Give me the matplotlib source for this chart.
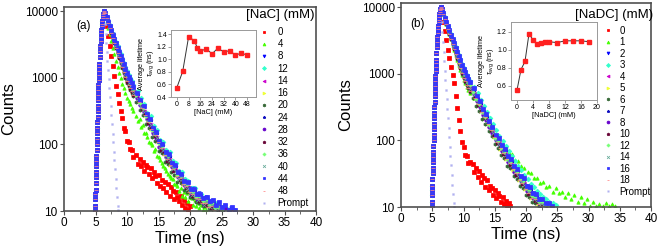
import numpy as np
import matplotlib
matplotlib.use("Agg")
import matplotlib.pyplot as plt
from matplotlib.ticker import FixedLocator, NullLocator

plt.rcParams['font.family'] = ['Liberation Sans', 'DejaVu Sans']
plt.rcParams['mathtext.fontset'] = 'custom'
plt.rcParams['mathtext.rm'] = 'Liberation Sans'
plt.rcParams['mathtext.it'] = 'Liberation Sans:italic'

# ---------------- channel grids (ns) ----------------
t_rise = np.round(np.r_[np.arange(4.9, 5.6001, 0.025), np.arange(5.65, 6.4001, 0.05)], 3)
rise_counts = [10, 12, 15, 17.8, 21, 26, 32, 38, 47, 56, 68, 83, 100, 120, 148, 178, 214, 260,
               316, 380, 457, 550, 661, 790, 933, 1090, 1259, 1440, 1622,
               2042, 2512, 3020, 3548, 4074, 4677, 5248, 5888, 6457, 7079, 7762, 8318,
               8913, 9441, 9772, 10000]
t_fast = np.round(np.arange(6.5, 11.0001, 0.25), 3)
t_slow_start = 11.5

# ---------------- panel (a): NaC ----------------
nac_labels = ['0', '4', '8', '12', '14', '16', '20', '24', '28', '32', '36', '40', '44', '48']
# tail channel spacing and first-channel offset (ns) of each series
nac_step = [0.25, 0.25, 0.5, 0.5, 0.5, 0.5, 0.5, 0.5, 0.5, 0.5, 0.5, 0.5, 0.5, 0.5]
nac_shift = [0, 0, 0, 0.25, 0.125, 0.375, 0, 0.25, 0.125, 0.375, 0, 0.25, 0.125, 0.375]
nac_fast = [
    [8710, 6030, 4270, 2950, 2090, 1480, 1050, 760, 562, 417, 316, 250, 178, 156, 112, 108, 84, 82, 64],
    [8910, 7080, 5620, 4470, 3550, 2820, 2240, 1780, 1450, 1175, 977, 813, 692, 589, 501, 447, 398, 355, 316],
    [9390, 8090, 6980, 6020, 5200, 4480, 3870, 3330, 2870, 2480, 2170, 1880, 1620, 1390, 1200, 1070, 950, 850, 755],
    [9400, 8130, 7040, 6090, 5270, 4560, 3940, 3410, 2950, 2550, 2240, 1940, 1680, 1440, 1250, 1110, 990, 890, 790],
    [9330, 7940, 6760, 5750, 4900, 4170, 3550, 3020, 2570, 2190, 1900, 1620, 1380, 1170, 1000, 890, 790, 710, 630],
    [9300, 7860, 6650, 5610, 4750, 4010, 3390, 2860, 2420, 2050, 1760, 1490, 1260, 1060, 900, 801, 711, 639, 567],
    [9290, 7810, 6570, 5520, 4650, 3910, 3290, 2770, 2320, 1960, 1680, 1410, 1190, 993, 840, 748, 664, 596, 529],
    [9360, 8030, 6900, 5910, 5080, 4360, 3740, 3210, 2750, 2360, 2070, 1770, 1520, 1300, 1120, 1000, 885, 795, 705],
    [9320, 7920, 6730, 5710, 4850, 4120, 3500, 2970, 2520, 2150, 1860, 1580, 1340, 1140, 970, 865, 765, 690, 610],
    [9290, 7840, 6610, 5570, 4700, 3970, 3340, 2820, 2370, 2000, 1720, 1450, 1225, 1030, 870, 775, 687, 618, 548],
    [9350, 8000, 6850, 5860, 5020, 4300, 3680, 3140, 2690, 2300, 2010, 1720, 1475, 1260, 1080, 960, 855, 765, 680],
    [9310, 7900, 6690, 5670, 4810, 4080, 3450, 2930, 2480, 2100, 1820, 1540, 1310, 1105, 940, 837, 743, 667, 592],
    [9380, 8070, 6960, 5990, 5150, 4440, 3820, 3290, 2830, 2430, 2130, 1840, 1580, 1350, 1170, 1040, 925, 830, 737],
    [9290, 7850, 6620, 5590, 4720, 3980, 3360, 2830, 2380, 2010, 1730, 1460, 1230, 1035, 880, 783, 695, 625, 554],
]
nac_slow = [
    [70, 51, 61, 47, 55, 40, 49, 45, 36, 44, 31, 39, 33, 26, 35, 24, 29, 22, 27, 19, 25, 17, 23, 20, 15,
     19, 16, 14, 17, 12.5, 14.5, 11, 13, 10.5, 12],
    [268, 226, 236, 184, 194, 150, 146, 128, 110, 104, 97, 80, 84, 66, 64, 58, 52, 47, 44, 40, 36, 33, 31, 30,
     25, 25, 24, 20, 22, 17, 19.5, 16, 18.5, 14, 16.5, 15.5, 12.5, 14.5, 11.8, 13, 11.2, 12.2, 10.5, 11.5, 10.2],
    [615, 470, 392, 290, 250, 182, 158, 114, 104, 79, 73, 55, 50, 39, 37, 29, 27, 22, 22, 18, 18.5, 15.5, 16, 13.5, 14, 12, 13, 11, 12, 10.5, 11, 10.2],
    [640, 490, 410, 300, 262, 190, 165, 118, 110, 82, 76, 57, 52, 40, 38, 30, 28, 22, 22, 18, 18, 15, 15.5, 13.5, 13.5, 12, 12, 11, 11, 10.4],
    [505, 395, 320, 245, 205, 152, 130, 96, 86, 66, 60, 46, 42, 32, 31, 24, 23, 18, 19, 15, 16, 13.5, 14, 12, 12.5, 11, 11.5, 10.5],
    [440, 368, 276, 232, 172, 148, 107, 95, 71, 66, 49, 46, 34, 33, 25, 25, 19, 19, 15.5, 15.5, 13.5, 13.5, 11.8, 12, 10.6, 10.8],
    [428, 328, 274, 203, 174, 127, 111, 80, 73, 55, 51, 38, 35, 27, 26, 21, 19, 16, 15.5, 13.5, 13.4, 11.8, 11.8, 10.7, 10.8],
    [570, 440, 365, 272, 232, 170, 148, 106, 97, 73, 68, 51, 47, 36, 35, 27, 26, 20.5, 21, 17, 17.5, 14.5, 15, 13, 13.5, 11.5, 12, 10.5, 11, 10.5],
    [490, 384, 310, 236, 196, 146, 124, 92, 83, 64, 58, 45, 41, 32, 31, 25, 23, 18, 19, 15, 16, 13, 14, 12, 12.5, 11, 11.5, 10.5, 11, 10.2, 10.8],
    [445, 340, 284, 210, 180, 132, 115, 83, 75, 57, 52, 40, 36, 29, 27, 22, 20, 17, 16.5, 14.3, 14.2, 12.5, 12.4, 11.2, 11.2, 10.4],
    [548, 424, 352, 262, 224, 164, 143, 103, 94, 71, 66, 50, 45, 35, 33, 26, 25, 20, 19.5, 16.5, 17, 14, 14.5, 12.5, 13, 11, 11.5, 10.5],
    [478, 366, 306, 226, 196, 142, 124, 89, 82, 61, 58, 42, 40, 30, 30, 23, 22, 17.5, 18, 14.5, 15.5, 12.5, 13.5, 11.5, 12, 10.5, 11],
    [595, 458, 382, 284, 244, 178, 154, 111, 101, 77, 71, 53, 49, 38, 36, 28, 27, 21.5, 21.5, 18, 18, 15.5, 16, 14, 14.5, 12.5, 13.5, 11.5, 12.5, 10.5, 11.5, 10.3],
    [432, 356, 272, 220, 170, 140, 108, 89, 70, 61, 49, 43, 34, 31, 25, 23.5, 19, 18, 15.5, 15, 13.3, 13.2, 11.6, 11.8, 10.5],
]
nac_prompt_t = np.round(np.arange(6.5, 8.6001, 0.1), 2)
nac_prompt = [6300, 4570, 3310, 2450, 1780, 1320, 955, 692, 513, 372, 275, 200, 145, 107, 78, 58, 42, 30, 22, 16, 12, 10.2]

nac_conc = [0, 4, 8, 12, 14, 16, 20, 24, 28, 32, 36, 40, 44, 48]
nac_tau = [0.55, 0.81, 1.36, 1.30, 1.18, 1.13, 1.17, 1.09, 1.18, 1.12, 1.14, 1.07, 1.10, 1.07]

# ---------------- panel (b): NaDC ----------------
nadc_labels = ['0', '1', '2', '3', '4', '5', '6', '7', '8', '10', '12', '14', '16', '18']
nadc_step = [0.25, 0.5, 0.5, 0.5, 0.5, 0.5, 0.5, 0.5, 0.5, 0.5, 0.5, 0.5, 0.5, 0.5]
nadc_shift = [0, 0.25, 0, 0.25, 0.125, 0.375, 0, 0.25, 0.125, 0.375, 0, 0.25, 0.125, 0.375]
nadc_fast = [
    [8510, 6030, 4370, 3160, 2290, 1700, 1260, 955, 724, 468, 302, 200, 140, 94, 80, 60, 58, 46, 47],
    [9280, 7820, 6570, 5500, 4620, 3880, 3260, 2730, 2290, 1920, 1620, 1370, 1150, 960, 800, 715, 640, 575, 515],
    [9370, 8060, 6930, 5950, 5130, 4400, 3790, 3250, 2800, 2400, 2110, 1810, 1560, 1330, 1150, 1020, 910, 815, 725],
    [9390, 8110, 7000, 6050, 5230, 4510, 3890, 3360, 2900, 2500, 2200, 1900, 1640, 1410, 1220, 1090, 965, 870, 775],
    [9330, 7940, 6760, 5750, 4900, 4170, 3550, 3020, 2570, 2190, 1900, 1620, 1380, 1170, 1000, 890, 790, 710, 630],
    [9300, 7860, 6650, 5610, 4750, 4010, 3390, 2860, 2420, 2050, 1760, 1490, 1260, 1060, 900, 801, 711, 639, 567],
    [9290, 7820, 6580, 5530, 4660, 3930, 3300, 2780, 2330, 1970, 1690, 1420, 1200, 1005, 850, 757, 672, 604, 536],
    [9360, 8030, 6880, 5880, 5040, 4310, 3690, 3160, 2700, 2320, 2020, 1740, 1490, 1270, 1100, 979, 869, 781, 693],
    [9320, 7920, 6730, 5710, 4850, 4120, 3500, 2970, 2520, 2150, 1860, 1580, 1340, 1140, 970, 865, 765, 690, 610],
    [9290, 7850, 6620, 5590, 4720, 3980, 3360, 2830, 2380, 2010, 1730, 1460, 1230, 1035, 880, 783, 695, 625, 554],
    [9350, 7990, 6830, 5830, 4990, 4260, 3640, 3100, 2650, 2260, 1960, 1680, 1440, 1225, 1060, 943, 837, 753, 668],
    [9310, 7900, 6690, 5670, 4810, 4080, 3450, 2930, 2480, 2100, 1820, 1540, 1310, 1105, 940, 837, 743, 667, 592],
    [9380, 8080, 6960, 6000, 5160, 4450, 3830, 3300, 2840, 2440, 2140, 1840, 1590, 1360, 1180, 1050, 932, 838, 743],
    [9290, 7830, 6600, 5550, 4680, 3950, 3320, 2800, 2350, 1990, 1700, 1430, 1210, 1015, 860, 765, 680, 611, 542],
]
nadc_slow = [
    [44, 33, 38, 28, 35, 24, 30, 27, 20, 25, 18, 21, 19, 15, 18, 13.5, 16, 14.5, 12, 14, 11.2, 12.5, 10.5, 11.5, 10.2],
    [430, 350, 300, 240, 212, 170, 152, 120, 112, 88, 82, 66, 63, 51, 49, 41, 39, 33, 32, 27, 27, 23, 24, 20, 21, 17,
     19, 16, 17, 14, 16, 13, 15, 12, 14, 11.5, 13, 10.5, 12, 10.5, 11, 10.3, 11.5, 10.5, 11, 10.2],
    [585, 450, 376, 288, 244, 184, 159, 118, 106, 81, 74, 56, 51, 39, 36, 28.5, 26, 20.5, 19.5, 16, 15.5, 13, 13, 11.5, 11.2, 10.4],
    [630, 505, 405, 330, 265, 218, 174, 142, 118, 99, 83, 69, 58, 49, 41, 36, 30, 26, 22.5, 20, 17.5, 15.5, 14, 13, 12, 11.3, 10.6],
    [506, 394, 322, 250, 210, 160, 138, 102, 93, 70, 65, 48, 45, 34, 32, 25, 23, 18, 17, 14, 13.5, 11.5, 11.5, 10.3],
    [442, 368, 276, 238, 176, 155, 112, 101, 75, 70, 52, 49, 36, 34, 25, 24.5, 18.5, 17.5, 13.8, 13.5, 11, 10.8],
    [432, 332, 276, 212, 178, 136, 116, 88, 78, 60, 55, 41, 38, 29, 26.5, 21, 19.5, 15, 14.3, 11.8, 11.3, 10.2],
    [560, 430, 360, 274, 232, 176, 151, 113, 102, 77, 71, 53, 49, 38, 34.5, 27, 25, 19.5, 18.5, 15.3, 14.6, 12.4, 12.4, 11, 10.6],
    [492, 384, 314, 244, 203, 158, 131, 101, 89, 70, 62, 48, 43, 34, 30, 24.5, 22.5, 17.5, 16.5, 13.8, 13, 11.3, 11, 10.3, 10.6],
    [448, 344, 286, 220, 186, 141, 120, 90, 81, 62, 57, 43, 39, 30, 27.5, 22, 20, 15.6, 14.8, 12.3, 11.7, 10.3],
    [538, 418, 346, 266, 224, 170, 146, 110, 98, 76, 68, 52, 47, 37, 33.5, 26.5, 24.5, 19, 18, 14.8, 14.2, 12, 12, 10.8, 10.6],
    [476, 370, 304, 236, 196, 152, 127, 98, 86, 68, 60, 47, 42, 33, 29, 24, 21.5, 17, 15.8, 13.2, 12.6, 10.8, 10.8],
    [600, 462, 384, 296, 246, 192, 160, 122, 108, 84, 75, 58, 52, 41, 37, 29.5, 27, 21, 20, 16.3, 15.7, 13.3, 13.2, 11.6, 11.6, 10.4],
    [426, 348, 270, 224, 174, 145, 112, 93, 76, 65, 53, 45, 37, 32, 25.5, 23, 18.8, 16.5, 13.8, 13, 11, 10.5],
]
nadc_prompt_t = np.round(np.arange(6.5, 8.5001, 0.1), 2)
nadc_prompt = [5900, 4200, 3000, 2150, 1550, 1110, 800, 575, 415, 300, 215, 155, 112, 80, 58, 42, 30, 21.5, 15.5, 11.5, 10.1]

nadc_conc = [0, 1, 2, 3, 4, 5, 6, 7, 8, 10, 12, 14, 16, 18]
nadc_tau = [0.55, 0.78, 0.87, 1.18, 1.11, 1.07, 1.08, 1.09, 1.09, 1.08, 1.10, 1.10, 1.10, 1.09]

# ---------------- styles (Origin-like) ----------------
colors = ['#ff0000', '#44ff00', '#0000ff', '#33ffcc', '#cc00cc', '#eeff33', '#336633',
          '#1010c0', '#6600cc', '#660033', '#77ff77', '#66aa99', '#3333ff', '#ff8888']
markers = ['s', '^', 'v', 'D', '<', '>', 'h', '*', 'o', 'p', 'P', 'x', 's', '_']
prompt_color = '#b0b0f0'
frame_col = '#505050'

W, H = 661, 249
fig = plt.figure(figsize=(W / 100, H / 100), dpi=100)


def fr(x0, y0, x1, y1):
    return [x0 / W, 1 - y1 / H, (x1 - x0) / W, (y1 - y0) / H]


def main_panel(px, labels, fast, slow, step, shift, pt, pc, title, tag, tagxy, ylab_x,
               leg_xy, lspace, tpad, title_xy):
    x0, y0, x1, y1 = px
    ax = fig.add_axes(fr(x0, y0, x1, y1))
    for i, lab in enumerate(labels):
        ts = t_slow_start + shift[i] + step[i] * np.arange(len(slow[i]))
        t = np.concatenate([t_rise, t_fast, ts])
        y = np.concatenate([rise_counts, fast[i], slow[i]])
        ax.plot(t, y, ls='none', marker=markers[i], ms=2.4, mew=0.55,
                color=colors[i], mec=colors[i], label=lab)
    ax.plot(pt, pc, ls='none', marker='s', ms=1.4, mew=0.2, color=prompt_color,
            mec=prompt_color, label='Prompt')
    ax.set_yscale('log')
    ax.set_xlim(0, 40)
    ax.set_ylim(10, 11500)
    ax.xaxis.set_major_locator(FixedLocator(np.arange(0, 41, 5)))
    ax.xaxis.set_minor_locator(FixedLocator(np.arange(2.5, 40, 5)))
    ax.yaxis.set_major_locator(FixedLocator([10, 100, 1000, 10000]))
    ax.yaxis.set_minor_locator(NullLocator())
    ax.set_yticklabels(['10', '100', '1000', '10000'])
    ax.tick_params(axis='both', which='major', labelsize=8.5, length=3, width=0.8,
                   direction='out', color=frame_col, pad=1.5)
    ax.tick_params(axis='x', which='minor', length=2, width=0.6, direction='out', color=frame_col)
    for s in ax.spines.values():
        s.set_color(frame_col)
        s.set_linewidth(1.2)
    ax.set_xlabel('Time (ns)', fontsize=12, labelpad=1)
    ax.set_ylabel('Counts', fontsize=12)
    ax.yaxis.set_label_coords(ylab_x, 0.5)
    ax.text(tagxy[0], tagxy[1], tag, fontsize=8.5, ha='left', va='center')
    lx = (leg_xy[0] - x0) / (x1 - x0)
    ly = 1 - (leg_xy[1] - y0) / (y1 - y0)
    ax.legend(loc='upper right', bbox_to_anchor=(lx, ly), frameon=False,
              fontsize=7, labelspacing=lspace, handlelength=1.0, handletextpad=tpad,
              borderpad=0, borderaxespad=0, markerscale=0.85)
    fig.text(title_xy[0] / W, 1 - title_xy[1] / H, title, fontsize=9.5, ha='right', va='center')
    return ax


def inset(rect, xs, ys, xlim, ylim, xt, yt, xlab):
    ax = fig.add_axes(rect)
    ax.plot(xs, ys, color='#333333', lw=0.7, marker='s', ms=2.4, mfc='#ff2020', mec='#ff2020')
    ax.set_xlim(*xlim)
    ax.set_ylim(*ylim)
    ax.set_xticks(xt)
    ax.set_yticks(yt)
    ax.set_yticklabels(['%.1f' % v for v in yt])
    ax.tick_params(labelsize=5, length=2, width=0.5, pad=1, color='#777777')
    for s in ax.spines.values():
        s.set_color('#999999')
        s.set_linewidth(0.7)
    ax.set_xlabel(xlab, fontsize=5.3, labelpad=0.5)
    ax.set_ylabel('Average lifetime\n' + r'$\tau_{\mathrm{avg}}$ (ns)', fontsize=5.3, labelpad=1,
                  linespacing=1.0)
    return ax


main_panel((64, 7, 316, 211), nac_labels, nac_fast, nac_slow, nac_step, nac_shift,
           nac_prompt_t, nac_prompt, '[NaC] (mM)', '(a)', (2.0, 5900), -0.19,
           (309, 27), 0.23, 0.9, (315, 15))
main_panel((401, 3, 651, 207), nadc_labels, nadc_fast, nadc_slow, nadc_step, nadc_shift,
           nadc_prompt_t, nadc_prompt, '[NaDC] (mM)', '(b)', (1.5, 5500), -0.192,
           (651, 25.5), 0.155, 0.7, (653, 15))

inset(fr(171, 30, 256, 97), nac_conc, nac_tau, (-4, 54), (0.4, 1.47),
      np.arange(0, 49, 8), [0.4, 0.6, 0.8, 1.0, 1.2, 1.4], '[NaC] (mM)')
inset(fr(511, 22, 597, 100), nadc_conc, nadc_tau, (-1.5, 20), (0.44, 1.31),
      np.arange(0, 21, 4), [0.6, 0.8, 1.0, 1.2], '[NaDC] (mM)')

fig.savefig('out.png', dpi=100)
